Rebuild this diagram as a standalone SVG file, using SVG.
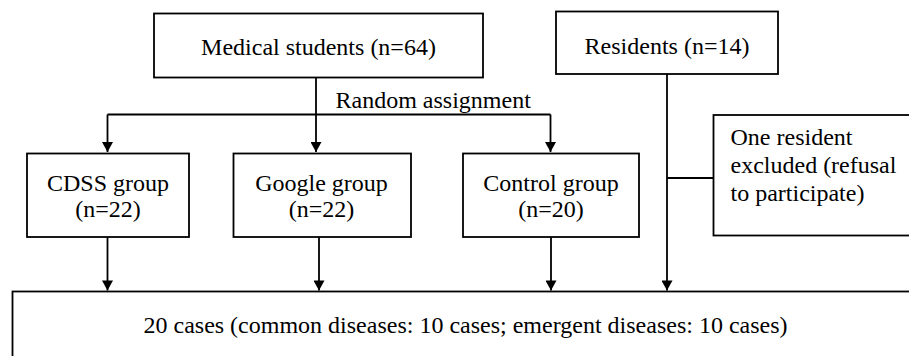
<svg xmlns="http://www.w3.org/2000/svg" width="909" height="356" viewBox="0 0 909 356">
  <style>
    .box { fill: #ffffff; stroke: #000000; stroke-width: 1.8; }
    .lbl { font-family: 'Liberation Serif', 'DejaVu Serif', serif; font-size: 24px; fill: #000000; }
    .mid { text-anchor: middle; }
    .conn { fill: none; stroke: #000000; stroke-width: 1.8; }
  </style>
  <defs>
    <marker id="arrow" markerUnits="userSpaceOnUse" markerWidth="11" markerHeight="11" refX="10" refY="5.5" orient="auto" viewBox="0 0 10 11">
      <path d="M0,0 L10,5.5 L0,11 z" fill="#000000"/>
    </marker>
  </defs>
  <rect x="0" y="0" width="909" height="356" fill="#ffffff"/>

  <g id="connectors">
    <path class="conn" d="M316,77.5 V152" marker-end="url(#arrow)"/>
    <path class="conn" d="M107.5,114.5 H550.5"/>
    <path class="conn" d="M107.5,114.5 V152" marker-end="url(#arrow)"/>
    <path class="conn" d="M550.5,114.5 V152" marker-end="url(#arrow)"/>
    <path class="conn" d="M107.5,237 V290.5" marker-end="url(#arrow)"/>
    <path class="conn" d="M319,237 V290.5" marker-end="url(#arrow)"/>
    <path class="conn" d="M551,237 V290.5" marker-end="url(#arrow)"/>
    <path class="conn" d="M667,74 V290.5" marker-end="url(#arrow)"/>
    <path class="conn" d="M667,178 H713.5"/>
    <text class="lbl" font-family="Liberation Serif, serif" x="335.5" y="107.5">Random assignment</text>
  </g>

  <g id="medical-students">
    <rect class="box" x="154" y="13.5" width="329" height="64"/>
    <text class="lbl mid" font-family="Liberation Serif, serif" x="318.5" y="54.5">Medical students (n=64)</text>
  </g>

  <g id="residents">
    <rect class="box" x="556" y="11.5" width="222" height="62.5"/>
    <text class="lbl mid" font-family="Liberation Serif, serif" x="667" y="53.5">Residents (n=14)</text>
  </g>

  <g id="cdss-group">
    <rect class="box" x="27" y="153.5" width="162" height="83.5"/>
    <text class="lbl mid" font-family="Liberation Serif, serif" x="108" y="190.5">CDSS group</text>
    <text class="lbl mid" font-family="Liberation Serif, serif" x="108" y="216.5">(n=22)</text>
  </g>

  <g id="google-group">
    <rect class="box" x="233.5" y="153.5" width="177.5" height="83.5"/>
    <text class="lbl mid" font-family="Liberation Serif, serif" x="321.5" y="190.5">Google group</text>
    <text class="lbl mid" font-family="Liberation Serif, serif" x="321.5" y="216.5">(n=22)</text>
  </g>

  <g id="control-group">
    <rect class="box" x="463" y="153.5" width="176" height="83.5"/>
    <text class="lbl mid" font-family="Liberation Serif, serif" x="551" y="190.5">Control group</text>
    <text class="lbl mid" font-family="Liberation Serif, serif" x="551" y="216.5">(n=20)</text>
  </g>

  <g id="excluded">
    <rect class="box" x="713.5" y="115" width="220" height="120.5"/>
    <text class="lbl" font-family="Liberation Serif, serif" x="730.5" y="145">One resident</text>
    <text class="lbl" font-family="Liberation Serif, serif" x="730.5" y="173">excluded (refusal</text>
    <text class="lbl" font-family="Liberation Serif, serif" x="730.5" y="201">to participate)</text>
  </g>

  <g id="cases">
    <rect class="box" x="12.5" y="291.5" width="920" height="100"/>
    <text class="lbl mid" font-family="Liberation Serif, serif" x="465.5" y="333">20 cases (common diseases: 10 cases; emergent diseases: 10 cases)</text>
  </g>
</svg>
